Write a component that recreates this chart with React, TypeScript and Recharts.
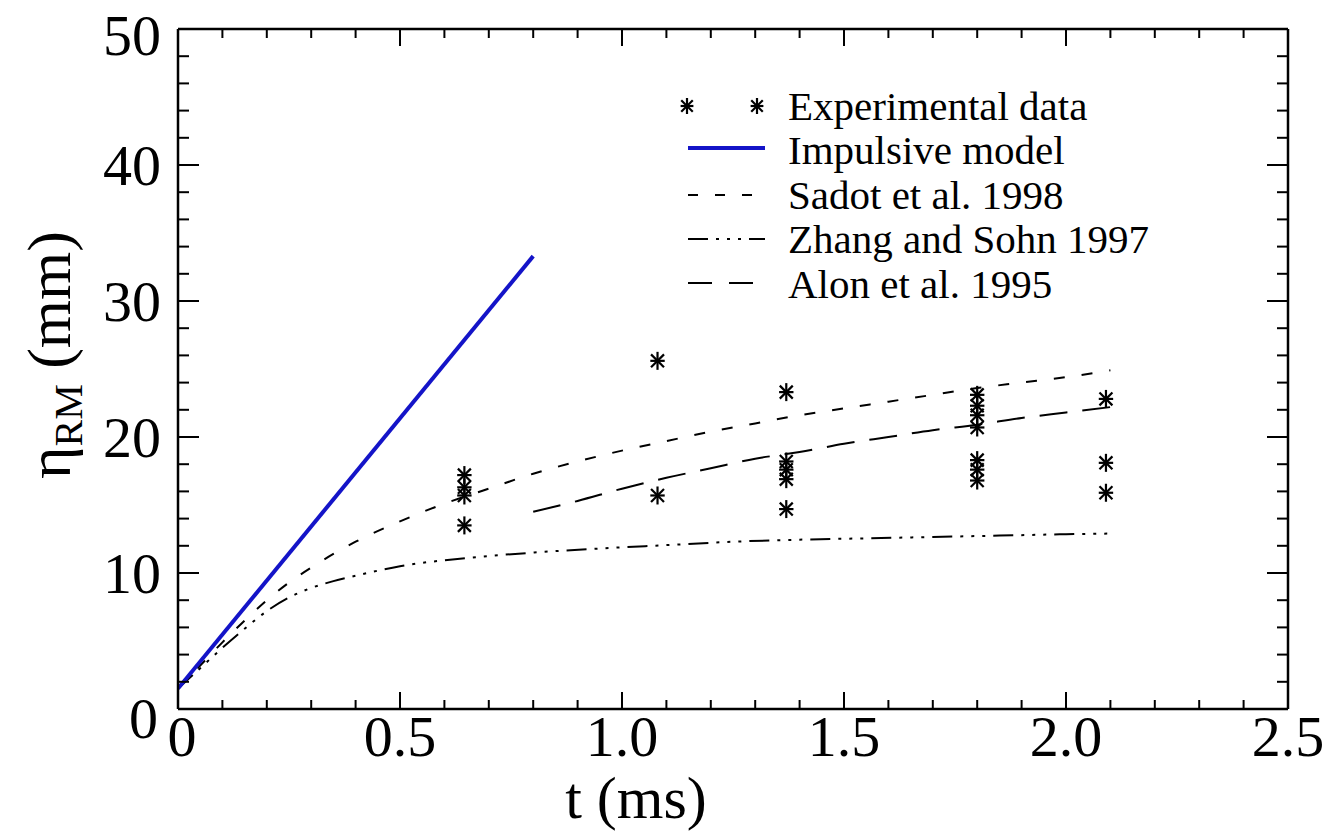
import { ComposedChart, Line, Scatter, XAxis, YAxis } from 'recharts'

// axis ticks (major ones carry labels)
const xTicks = [0, 0.1, 0.2, 0.3, 0.4, 0.5, 0.6, 0.7, 0.8, 0.9, 1.0, 1.1, 1.2, 1.3, 1.4, 1.5, 1.6, 1.7, 1.8, 1.9, 2.0, 2.1, 2.2, 2.3, 2.4, 2.5]
const xMajor = [0, 0.5, 1.0, 1.5, 2.0, 2.5]
const yTicks = [0, 2, 4, 6, 8, 10, 12, 14, 16, 18, 20, 22, 24, 26, 28, 30, 32, 34, 36, 38, 40, 42, 44, 46, 48, 50]
const yMajor = [0, 10, 20, 30, 40, 50]

// experimental data
const expT = [0.645, 0.645, 0.645, 0.645, 1.08, 1.08, 1.37, 1.37, 1.37, 1.37, 1.37, 1.8, 1.8, 1.8, 1.8, 1.8, 1.8, 1.8, 2.09, 2.09, 2.09]
const expEta = [17.2, 16.3, 15.7, 13.5, 25.6, 15.7, 23.3, 18.2, 17.6, 16.9, 14.7, 23.1, 22.3, 21.6, 20.7, 18.3, 17.6, 16.8, 22.8, 18.1, 15.9]

// model curves
const impulsiveT = [0, 0.8]
const impulsiveEta = [1.5, 33.3]

const sadotT = [0, 0.05, 0.1, 0.15, 0.2, 0.25, 0.3, 0.35, 0.4, 0.5, 0.6, 0.7, 0.8, 0.9, 1.0, 1.1, 1.2, 1.3, 1.4, 1.5, 1.6, 1.7, 1.8, 1.9, 2.0, 2.1]
const sadotEta = [1.5, 3.2, 4.9, 6.5, 8.0, 9.3, 10.4, 11.4, 12.3, 13.8, 15.1, 16.2, 17.3, 18.2, 19.0, 19.7, 20.4, 21.0, 21.6, 22.1, 22.6, 23.1, 23.6, 24.0, 24.4, 24.9]

const zhangT = [0, 0.05, 0.1, 0.15, 0.2, 0.25, 0.3, 0.35, 0.4, 0.5, 0.65, 0.8, 0.95, 1.1, 1.25, 1.4, 1.55, 1.7, 1.85, 2.0, 2.1]
const zhangEta = [1.5, 3.0, 4.5, 5.9, 7.2, 8.2, 8.9, 9.4, 9.8, 10.5, 11.1, 11.5, 11.8, 12.05, 12.3, 12.45, 12.55, 12.65, 12.75, 12.85, 12.9]

const alonT = [0.8, 0.9, 1.0, 1.1, 1.2, 1.3, 1.4, 1.5, 1.6, 1.7, 1.8, 1.9, 2.0, 2.1]
const alonEta = [14.5, 15.3, 16.2, 17.0, 17.7, 18.4, 18.9, 19.5, 20.0, 20.5, 20.9, 21.4, 21.8, 22.2]

const toRows = (ts: number[], vs: number[]) => ts.map((t, i) => ({ t, v: vs[i] }))

const FONT = "'Liberation Serif', Tinos, 'Times New Roman', 'DejaVu Serif', serif"
const BLUE = '#1414c8'
const SADOT_DASH = '11 17'
const ZHANG_DASH = '20 8 3 8 3 8 3 8'
const ALON_DASH = '28 15'

function Star({ cx, cy, r = 9 }: { cx: number; cy: number; r?: number }) {
  const d = r * 0.72
  return (
    <g stroke="#000" strokeWidth={2.2}>
      <line x1={cx} y1={cy - r} x2={cx} y2={cy + r} />
      <line x1={cx - r * 0.8} y1={cy} x2={cx + r * 0.8} y2={cy} />
      <line x1={cx - d} y1={cy - d} x2={cx + d} y2={cy + d} />
      <line x1={cx - d} y1={cy + d} x2={cx + d} y2={cy - d} />
    </g>
  )
}

const xLabel = (v: number) => (v === 0 ? '0' : v.toFixed(1))

function BottomTick({ x, y, payload }: any) {
  const major = xMajor.includes(payload.value)
  return (
    <g>
      <line x1={x} x2={x} y1={y} y2={y - (major ? 17 : 9)} stroke="#000" strokeWidth={2} />
      {major && (
        <text x={payload.value === 0 ? x + 4 : x} y={y + 47} textAnchor="middle" style={{ fontFamily: FONT }} fontSize={58} fill="#000">
          {xLabel(payload.value)}
        </text>
      )}
    </g>
  )
}

function TopTick({ x, y, payload }: any) {
  const major = xMajor.includes(payload.value)
  return <line x1={x} x2={x} y1={y} y2={y + (major ? 17 : 9)} stroke="#000" strokeWidth={2} />
}

function LeftTick({ x, y, payload }: any) {
  const v = payload.value
  const major = yMajor.includes(v)
  const shift = v === 0 ? 9 : v === 50 ? 6 : 0
  return (
    <g>
      <line x1={x} x2={x + (major ? 21 : 11)} y1={y} y2={y} stroke="#000" strokeWidth={2} />
      {major && (
        <text x={v === 0 ? x - 20 : x - 17} y={y + shift} dy="0.35em" textAnchor="end" style={{ fontFamily: FONT }} fontSize={58} fill="#000">
          {v}
        </text>
      )}
    </g>
  )
}

function RightTick({ x, y, payload }: any) {
  const major = yMajor.includes(payload.value)
  return <line x1={x} x2={x - (major ? 21 : 11)} y1={y} y2={y} stroke="#000" strokeWidth={2} />
}

function LegendBox() {
  const lx1 = 688
  const lx2 = 765
  const base = [120, 164, 209, 253, 298]
  const textProps = { x: 788, fontSize: 41, fill: '#000', style: { fontFamily: FONT } }
  return (
    <g>
      <Star cx={687} cy={106} r={8} />
      <Star cx={757} cy={106} r={8} />
      <text {...textProps} y={base[0]}>Experimental data</text>
      <line x1={lx1} x2={lx2} y1={base[1] - 16} y2={base[1] - 16} stroke={BLUE} strokeWidth={4} />
      <text {...textProps} y={base[1]}>Impulsive model</text>
      <line x1={lx1} x2={lx2} y1={base[2] - 14} y2={base[2] - 14} stroke="#000" strokeWidth={2} strokeDasharray="10 17" />
      <text {...textProps} y={base[2]}>Sadot et al. 1998</text>
      <line x1={lx1} x2={lx2} y1={base[3] - 14} y2={base[3] - 14} stroke="#000" strokeWidth={2} strokeDasharray="20 8 3 8 3 8 3 8" />
      <text {...textProps} y={base[3]}>Zhang and Sohn 1997</text>
      <line x1={lx1} x2={lx2} y1={base[4] - 15} y2={base[4] - 15} stroke="#000" strokeWidth={2} strokeDasharray="24 17" />
      <text {...textProps} y={base[4]}>Alon et al. 1995</text>
    </g>
  )
}

function AxisTitles() {
  return (
    <g fill="#000" style={{ fontFamily: FONT }}>
      <text x={636} y={818} textAnchor="middle" fontSize={60}>t (ms)</text>
      <text x={70} y={355} textAnchor="middle" fontSize={62} transform="rotate(-90, 70, 355)">
        η<tspan fontSize={40} dy={12}>RM</tspan>
        <tspan dy={-12}> (mm)</tspan>
      </text>
    </g>
  )
}

const frameLine = { stroke: '#000', strokeWidth: 2.5 }

export default function App() {
  return (
    <div style={{ position: 'absolute', left: 0, top: 0, background: '#fff' }}>
      <ComposedChart width={1329} height={831} margin={{ top: 28, right: 40, bottom: 0, left: 0 }}>
        <XAxis type="number" dataKey="t" domain={[0, 2.5]} ticks={xTicks} interval={0} height={122}
          tickSize={0} tickMargin={0} tickLine={false} tick={BottomTick} axisLine={frameLine} allowDataOverflow />
        <XAxis xAxisId="top" orientation="top" type="number" dataKey="t" domain={[0, 2.5]} ticks={xTicks} interval={0} height={1}
          tickSize={0} tickMargin={0} tickLine={false} tick={TopTick} axisLine={frameLine} allowDataOverflow />
        <YAxis type="number" domain={[0, 50]} ticks={yTicks} interval={0} width={178}
          tickSize={0} tickMargin={0} tickLine={false} tick={LeftTick} axisLine={frameLine} allowDataOverflow />
        <YAxis yAxisId="right" orientation="right" type="number" domain={[0, 50]} ticks={yTicks} interval={0} width={1}
          tickSize={0} tickMargin={0} tickLine={false} tick={RightTick} axisLine={frameLine} allowDataOverflow />
        <Line data={toRows(zhangT, zhangEta)} dataKey="v" type="monotone" stroke="#000" strokeWidth={2} strokeDasharray={ZHANG_DASH} dot={false} isAnimationActive={false} />
        <Line data={toRows(alonT, alonEta)} dataKey="v" type="monotone" stroke="#000" strokeWidth={2} strokeDasharray={ALON_DASH} dot={false} isAnimationActive={false} />
        <Line data={toRows(sadotT, sadotEta)} dataKey="v" type="monotone" stroke="#000" strokeWidth={2} strokeDasharray={SADOT_DASH} dot={false} isAnimationActive={false} />
        <Line data={toRows(impulsiveT, impulsiveEta)} dataKey="v" type="linear" stroke={BLUE} strokeWidth={4} dot={false} isAnimationActive={false} />
        <Scatter
          xAxisId="top"
          yAxisId="right"
          data={toRows(expT, expEta)}
          dataKey="v"
          isAnimationActive={false}
          shape={(p: any) => <Star cx={p.cx} cy={p.cy} />}
        />
        <LegendBox />
        <AxisTitles />
      </ComposedChart>
    </div>
  )
}
